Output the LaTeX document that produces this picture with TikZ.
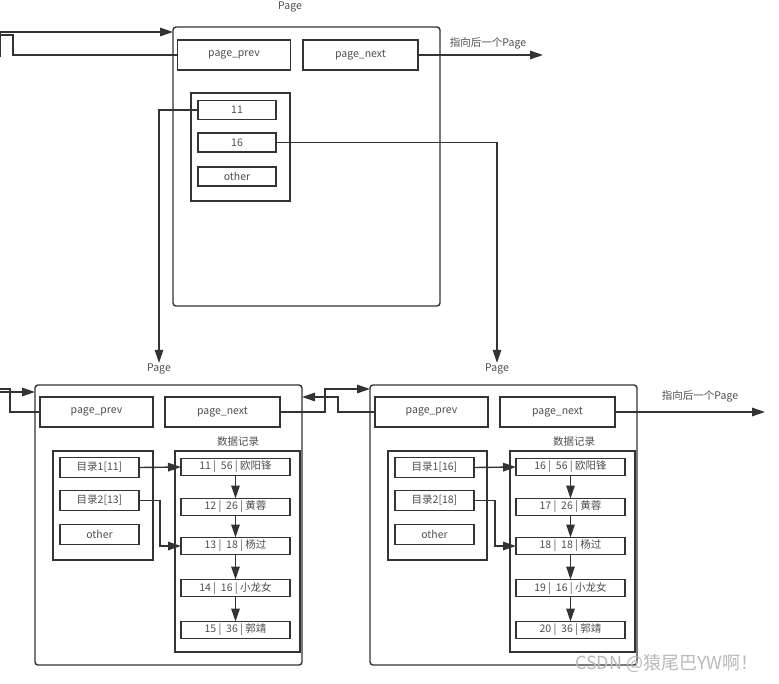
\documentclass[tikz,border=0pt]{standalone}
\usepackage{fontspec}
\setmainfont{Noto Sans CJK SC}
\usetikzlibrary{arrows.meta}
\definecolor{ln}{HTML}{333333}
\definecolor{tx}{HTML}{4D4D4D}
\begin{document}
\begin{tikzpicture}[x=1pt,y=-1pt,font=\fontsize{10.5}{12}\selectfont,
  every node/.style={outer sep=0pt,text=tx},
  pagebox/.style={draw=ln,line width=1.4pt,rounded corners=3pt,minimum width=267,minimum height=280},
  box/.style={draw=ln,line width=1.4pt},
  ptr/.style={box,minimum width=113,minimum height=30},
  key/.style={box,minimum width=79,minimum height=20,inner sep=0pt},
  rec/.style={box,minimum width=109,minimum height=17,inner sep=0pt},
  lbl/.style={inner sep=1pt},
  link/.style={draw=ln,line width=1.4pt},
  arr/.style={link,-{Triangle[length=13pt,width=8.5pt]}}]
\useasboundingbox (0,0) rectangle (779,683);

\node[lbl] (t0) at (290,7) {Page};
\node[pagebox,minimum height=279] (pg0) at (306.5,166.5) {};
\node[ptr] (pp0) at (234,55) {page\_prev};
\node[ptr,minimum width=115] (pn0) at (360.5,55) {page\_next};
\node[lbl] (nt0) at (488,43) {指向后一个Page};
\node[box,minimum width=99,minimum height=108] (ix0) at (240.5,147) {};
\node[key,minimum width=78,minimum height=19] (k11) at (237,110) {11};
\node[key,minimum width=78,minimum height=19] (k16) at (237,142.5) {16};
\node[key,minimum width=78,minimum height=19] (ko0) at (237,176.5) {other};

\node[lbl] (t1) at (159,369) {Page};
\node[pagebox] (pg1) at (168.5,525) {};
\node[ptr] (pp1) at (96.5,412) {page\_prev};
\node[ptr,minimum width=115] (pn1) at (222.5,412) {page\_next};
\node[lbl] (dt1) at (238,442) {数据记录};
\node[box,minimum width=100,minimum height=109] (ix1) at (103,505.5) {};
\node[key] (ka1) at (99.5,467.5) {目录1[11]};
\node[key] (kb1) at (99.5,500.5) {目录2[13]};
\node[key] (ko1) at (99.5,534.5) {other};
\node[box,minimum width=125,minimum height=201] (db1) at (237.5,551.5) {};
\node[rec] (a1) at (235.5,467) {11 |\ \ 56 | 欧阳锋};
\node[rec] (a2) at (235.5,507) {12 |\ \ 26 | 黄蓉};
\node[rec] (a3) at (235.5,546) {13 |\ \ 18 | 杨过};
\node[rec] (a4) at (235.5,588) {14 |\ \ 16 | 小龙女};
\node[rec] (a5) at (235.5,630) {15 |\ \ 36 | 郭靖};

\node[lbl] (t2) at (497,369) {Page};
\node[pagebox] (pg2) at (503.5,525) {};
\node[ptr] (pp2) at (431.5,412) {page\_prev};
\node[ptr,minimum width=115] (pn2) at (557.5,412) {page\_next};
\node[lbl] (nt2) at (700,396) {指向后一个Page};
\node[lbl] (dt2) at (574,442) {数据记录};
\node[box,minimum width=99,minimum height=109] (ix2) at (437.5,505.5) {};
\node[key] (ka2) at (434.5,467.5) {目录1[16]};
\node[key] (kb2) at (434.5,500.5) {目录2[18]};
\node[key] (ko2) at (434.5,534.5) {other};
\node[box,minimum width=125,minimum height=201] (db2) at (572.5,551.5) {};
\node[rec] (b1) at (570.5,467) {16 |\ \ 56 | 欧阳锋};
\node[rec] (b2) at (570.5,507) {17 |\ \ 26 | 黄蓉};
\node[rec] (b3) at (570.5,546) {18 |\ \ 18 | 杨过};
\node[rec] (b4) at (570.5,588) {19 |\ \ 16 | 小龙女};
\node[rec] (b5) at (570.5,630) {20 |\ \ 36 | 郭靖};

\node[text=gray!55,font=\fontsize{18}{18}\selectfont] (wm) at (667,663) {CSDN @猿尾巴YW啊！};

\coordinate (in0) at (0,32);
\coordinate (out0) at (0,35);
\coordinate (nx0) at (543,55);
\coordinate (in1) at (0,392);
\coordinate (out1) at (0,389);
\coordinate (nx2) at (765,412);

\draw[arr] (in0) -- (in0 -| pg0.west);
\draw[link] (pp0.west) -| (13,35) -- (out0);
\draw[link] (0.5,33) -- (0.5,57);
\draw[arr] (pn0.east) -- (nx0);
\draw[arr] (k11.west) -| (t1.north);
\draw[arr] (k16.east) -| (t2.north);

\draw[arr] (in1) -- (in1 -| pg1.west);
\draw[link] (pp1.west) -| (10,389) -- (out1);
\draw[arr] (pn1.east) -| (325,389) -- (pg2.west |- 0,389);
\draw[arr] (pp2.west) -| (338,397) -- (pg1.east |- 0,397);
\draw[arr] (pn2.east) -- (nx2);

\draw[arr] (ka1.east) -- (a1.west);
\draw[arr] (kb1.east) -| (160,546) -- (a3.west);
\draw[arr] (a1) -- (a2);
\draw[arr] (a2) -- (a3);
\draw[arr] (a3) -- (a4);
\draw[arr] (a4) -- (a5);

\draw[arr] (ka2.east) -- (b1.west);
\draw[arr] (kb2.east) -| (495,546) -- (b3.west);
\draw[arr] (b1) -- (b2);
\draw[arr] (b2) -- (b3);
\draw[arr] (b3) -- (b4);
\draw[arr] (b4) -- (b5);
\end{tikzpicture}
\end{document}
